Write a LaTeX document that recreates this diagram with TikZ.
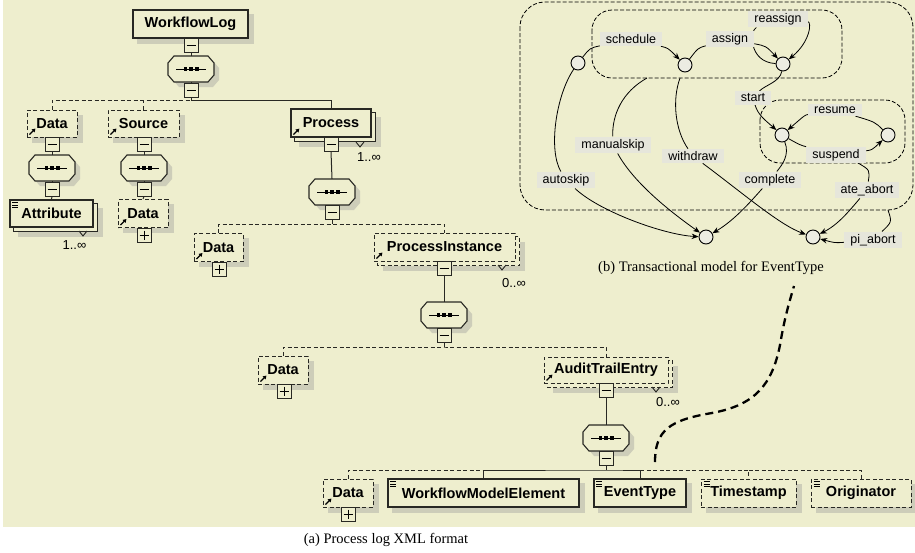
\documentclass[tikz,border=0pt]{standalone}
\usepackage{fontspec}
\setmainfont{Liberation Serif}
\newfontfamily\lsans{Liberation Sans}
\usetikzlibrary{calc,arrows.meta}
\definecolor{bgc}{RGB}{238,238,206}
\definecolor{shc}{RGB}{205,205,185}
\definecolor{lnc}{RGB}{40,40,35}
\definecolor{lblc}{RGB}{230,230,219}
\definecolor{stc}{RGB}{236,236,226}
\pgfdeclarelayer{back}
\pgfdeclarelayer{bgl}
\pgfsetlayers{back,bgl,main}
\tikzset{
 ebox/.style={draw=lnc, line width=1.2, fill=bgc, inner sep=0, minimum height=28, font=\lsans\bfseries\fontsize{14.5}{16}\selectfont},
 obox/.style={ebox, dash pattern=on 4pt off 2.5pt, line width=1},
 bkS/.style={draw=lnc, line width=1.2, fill=bgc},
 bkD/.style={draw=lnc, line width=1, fill=bgc, dash pattern=on 4pt off 2.5pt},
 pmbox/.style={draw=lnc, line width=0.9, fill=bgc, minimum size=14, inner sep=0},
 tree/.style={line width=1, draw=lnc},
 opt/.style={tree, dash pattern=on 4pt off 2.5pt},
 notch/.style={line width=0.9, draw=lnc},
 mult/.style={font=\lsans\fontsize{13}{14}\selectfont, inner sep=0},
 state/.style={circle, draw=black, line width=0.9, fill=stc, minimum size=14, inner sep=0},
 lbl/.style={fill=lblc, font=\lsans\fontsize{12.5}{13}\selectfont, inner xsep=6, inner ysep=2.5},
 tr/.style={line width=0.8, black},
 tra/.style={tr, -{Stealth[length=7pt,width=5.5pt]}},
 grp/.style={line width=0.8, black, dash pattern=on 4pt off 2pt, rounded corners=20},
 bigdash/.style={line width=2.3, black, dash pattern=on 8pt off 5pt},
 captxt/.style={font=\fontsize{14.5}{16}\selectfont, inner sep=0},
}
\newcommand{\shad}[2][5]{%
 \begin{pgfonlayer}{bgl}
 \fill[shc] ($(#2.north west)+(#1,#1)$) rectangle ($(#2.south east)+(#1,#1)$);
 \end{pgfonlayer}}
\newcommand{\stk}[3]{% node, style, offset
 \begin{pgfonlayer}{bgl}
 \fill[shc] ($(#1.north west)+(#3,#3)+(5,5)$) rectangle ($(#1.south east)+(#3,#3)+(5,5)$);
 \draw[#2] ($(#1.north west)+(#3,#3)$) rectangle ($(#1.south east)+(#3,#3)$);
 \end{pgfonlayer}}
\newcommand{\refic}[1]{\draw[line width=1.2, -{Triangle[length=3.5pt,width=4pt]}] ($(#1.south west)+(3,-3)$) -- ($(#1.south west)+(9,-9)$);}
\newcommand{\simic}[1]{\foreach \k in {3,5.5,8} {\draw[line width=0.7] ($(#1.north west)+(3,\k)$) -- ($(#1.north west)+(9,\k)$);}}
\newcommand{\minusb}[2]{\node[pmbox] (#1) at (#2) {};
 \draw[line width=0.9] ($(#1.center)+(-4.5,0)$) -- ($(#1.center)+(4.5,0)$);}
\newcommand{\plusb}[2]{\node[pmbox] (#1) at (#2) {};
 \draw[line width=0.9] ($(#1.center)+(-4.5,0)$) -- ($(#1.center)+(4.5,0)$);
 \draw[line width=0.9] ($(#1.center)+(0,-4.5)$) -- ($(#1.center)+(0,4.5)$);}
\newcommand{\seqc}[2]{%
 \node[inner sep=0, minimum width=46, minimum height=26] (#1) at (#2) {};
 \begin{pgfonlayer}{bgl}
 \begin{scope}[shift={($(#1.center)+(5,5)$)}]
 \fill[shc] (-23,-6) -- (-17,-13) -- (17,-13) -- (23,-6) -- (23,6) -- (17,13) -- (-17,13) -- (-23,6) -- cycle;
 \end{scope}
 \end{pgfonlayer}
 \begin{scope}[shift={(#1.center)}]
 \draw[lnc, line width=1.1, fill=bgc] (-23,-6) -- (-17,-13) -- (17,-13) -- (23,-6) -- (23,6) -- (17,13) -- (-17,13) -- (-23,6) -- cycle;
 \draw[line width=1] (-15,0) -- (15,0);
 \fill (-7.5,-1.8) rectangle (-4,1.8);
 \fill (-1.75,-1.8) rectangle (1.75,1.8);
 \fill (4,-1.8) rectangle (7.5,1.8);
 \end{scope}}
\begin{document}
\begin{tikzpicture}[x=1pt,y=-1pt]
\useasboundingbox (0,0) rectangle (915,552);
\begin{pgfonlayer}{back}
\fill[white] (0,0) rectangle (915,552);
\fill[bgc] (3,0) rectangle (915,527);
\end{pgfonlayer}

% ---------------- tree (a) ----------------
\node[ebox, minimum width=115] (wfl) at (190.5,24) {WorkflowLog}; \shad{wfl}
\minusb{m1}{191,45}
\seqc{o1}{191,69}
\minusb{m2}{191,90}
\draw[tree] (m1.south) -- (o1.north);
\draw[tree] (o1.south) -- (m2.north);
\coordinate (b1) at (191,100);
\draw[tree] (m2.south) -- (b1);

\node[obox, minimum width=50, minimum height=27] (data1) at (52,123.5) {Data}; \shad{data1} \refic{data1}
\node[obox, minimum width=71, minimum height=27] (src) at (143.5,123.5) {Source}; \shad{src} \refic{src}
\node[ebox, minimum width=80] (proc) at (331,123) {Process}; \stk{proc}{bkS}{4} \refic{proc}
\draw[opt] (data1.north) |- (b1);
\draw[opt] (src.north) -- (src.north |- b1);
\draw[tree] (b1) -| (proc.north);
\draw[notch] (356,142) -- (360,147) -- (364,142);
\node[mult] (mu2) at (369,157) {1..∞};

% Data column
\minusb{m3}{52,144}
\seqc{o2}{52,168}
\minusb{m4}{52,189}
\node[ebox, minimum width=83, minimum height=27] (attr) at (51.5,213.5) {Attribute}; \stk{attr}{bkS}{4} \simic{attr}
\draw[tree] (m3.south) -- (o2.north);
\draw[tree] (o2.south) -- (m4.north);
\draw[tree] (m4.south) -- (attr.north);
\draw[notch] (79,231) -- (83,236) -- (87,231);
\node[mult] (mu1) at (74.5,245) {1..∞};

% Source column
\minusb{m5}{144,144}
\seqc{o3}{144,168}
\minusb{m6}{144,189}
\node[obox, minimum width=50] (data2) at (143,213.5) {Data}; \shad{data2} \refic{data2}
\plusb{p1}{144,235}
\draw[tree] (m5.south) -- (o3.north);
\draw[tree] (o3.south) -- (m6.north);
\draw[tree] (m6.south) -- (data2.north);

% Process column
\minusb{m7}{331,144}
\seqc{o4}{332,192}
\minusb{m8}{332,212}
\coordinate (b2) at (332,224);
\draw[tree] (m7.south) -- (o4.north);
\draw[tree] (o4.south) -- (m8.north);
\draw[tree] (m8.south) -- (b2);
\node[obox, minimum width=49] (data3) at (218.5,247.5) {Data}; \shad{data3} \refic{data3}
\plusb{p2}{219,269}
\node[obox, minimum width=141] (pi) at (444.5,247) {ProcessInstance}; \stk{pi}{bkD}{4} \refic{pi}
\minusb{m9}{444,268}
\draw[opt] (data3.north) |- (b2) -| (pi.north);
\draw[notch] (498,265) -- (502,270) -- (506,265);
\node[mult] (mu3) at (514,283) {0..∞};

% ProcessInstance column
\seqc{o5}{444,315}
\minusb{m10}{444,335.5}
\coordinate (b3) at (444,347);
\draw[tree] (m9.south) -- (o5.north);
\draw[tree] (o5.south) -- (m10.north);
\draw[tree] (m10.south) -- (b3);
\node[obox, minimum width=50] (data4) at (283,370) {Data}; \shad{data4} \refic{data4}
\plusb{p3}{284,391}
\node[obox, minimum width=124, minimum height=26] (ate) at (606,370) {AuditTrailEntry}; \stk{ate}{bkD}{4} \refic{ate}
\minusb{m11}{606,390}
\draw[opt] (data4.north) |- (b3) -| (ate.north);
\draw[notch] (652,387) -- (656,392) -- (660,387);
\node[mult] (mu4) at (668,402) {0..∞};

% AuditTrailEntry column
\seqc{o6}{606,438}
\minusb{m12}{606,458.5}
\coordinate (b4) at (606,470);
\draw[tree] (m11.south) -- (o6.north);
\draw[tree] (o6.south) -- (m12.north);
\draw[tree] (m12.south) -- (b4);
\node[obox, minimum width=50] (data5) at (348,493) {Data}; \shad{data5} \refic{data5}
\plusb{p4}{348,514}
\node[ebox, minimum width=191] (wme) at (483.5,493) {WorkflowModelElement}; \shad{wme} \simic{wme}
\node[ebox, minimum width=92] (evt) at (640,493) {EventType}; \shad{evt} \simic{evt}
\node[obox, minimum width=95] (ts) at (748.5,493) {Timestamp}; \shad{ts} \simic{ts}
\node[obox, minimum width=100] (orig) at (861,493) {Originator}; \shad{orig} \simic{orig}
\draw[opt] (data5.north) |- (wme.north |- b4);
\draw[tree] (wme.north) |- (b4) -| (evt.north);
\draw[opt] (evt.north |- b4) -| (ts.north);
\draw[opt] (ts.north |- b4) -| (orig.north);

\node[captxt] (capa) at (386,540) {(a) Process log XML format};

% ---------------- transactional model (b) ----------------
\node[state] (s0) at (578,63) {};
\node[state] (s1) at (685,65) {};
\node[state] (s2) at (783,64) {};
\node[state] (s3) at (782,135) {};
\node[state] (s4) at (888,135) {};
\node[state] (s5) at (706,237) {};
\node[state] (s6) at (813,237) {};

\node[lbl] (lsched) at (631,39) {schedule};
\node[lbl] (lassign) at (730,39) {assign};
\node[lbl] (lreassign) at (778,19) {reassign};
\node[lbl] (lstart) at (753,98) {start};
\node[lbl] (lresume) at (835,110) {resume};
\node[lbl] (lsuspend) at (836,155) {suspend};
\node[lbl] (lcomplete) at (770,180) {complete};
\node[lbl] (late) at (867,190) {ate\_abort};
\node[lbl] (lpi) at (873,240) {pi\_abort};
\node[lbl] (lwithdraw) at (693,156) {withdraw};
\node[lbl] (lmanual) at (613,145) {manualskip};
\node[lbl] (lauto) at (566,180) {autoskip};

\coordinate (cAte) at (858,163);
\coordinate (cPi) at (888,210);
\coordinate (cWd) at (680,78);
\coordinate (cMs) at (647,78);

\begin{pgfonlayer}{bgl}
\draw[grp, rounded corners=25] (520,2) rectangle (913,210);
\draw[grp] (592,10) rectangle (842,78);
\draw[grp] (760,100) rectangle (905,163);
\draw[tr] (s0) .. controls (590,48) .. (lsched);
\draw[tra] (lsched) .. controls (668,48) .. (s1);
\draw[tr] (s1) .. controls (698,48) .. (lassign);
\draw[tra] (lassign) .. controls (766,46) .. (s2);
\draw[tr] (s2) .. controls (748,62) and (750,30) .. (lreassign);
\draw[tra] (lreassign) .. controls (812,22) and (810,42) .. (s2);
\draw[tr] (s2) .. controls (780,82) and (765,85) .. (lstart);
\draw[tra] (lstart) .. controls (758,115) and (765,120) .. (s3);
\draw[tr] (s4) .. controls (875,122) .. (lresume);
\draw[tra] (lresume) .. controls (805,115) .. (s3);
\draw[tr] (s3) .. controls (800,145) .. (lsuspend);
\draw[tra] (lsuspend) .. controls (872,150) .. (s4);
\draw[tr] (s3) .. controls (790,155) and (782,165) .. (lcomplete);
\draw[tra] (lcomplete) .. controls (752,200) and (735,220) .. (s5);
\draw[tr] (cAte) .. controls (870,170) .. (late);
\draw[tra] (late) .. controls (850,210) and (838,225) .. (s6);
\draw[tr] (cPi) .. controls (892,222) .. (lpi);
\draw[tra] (lpi) .. controls (835,243) .. (s6);
\draw[tr] (cWd) .. controls (672,100) and (675,130) .. (lwithdraw);
\draw[tra] (lwithdraw) .. controls (745,195) and (780,225) .. (s6);
\draw[tr] (cMs) .. controls (622,92) and (612,115) .. (lmanual);
\draw[tra] (lmanual) .. controls (635,185) and (675,215) .. (s5);
\draw[tr] (s0) .. controls (556,95) and (548,150) .. (lauto);
\draw[tra] (lauto) .. controls (600,212) and (665,235) .. (s5);
\end{pgfonlayer}

\node[captxt] (capb) at (711,268) {(b) Transactional model for EventType};

\coordinate (ce) at (655,462);
\coordinate (ct) at (794,286);
\draw[bigdash] (ce) .. controls (655,430) and (670,420) .. (712,413) .. controls (755,405) and (772,385) .. (780,345) .. controls (785,315) and (790,300) .. (ct);
\end{tikzpicture}
\end{document}
